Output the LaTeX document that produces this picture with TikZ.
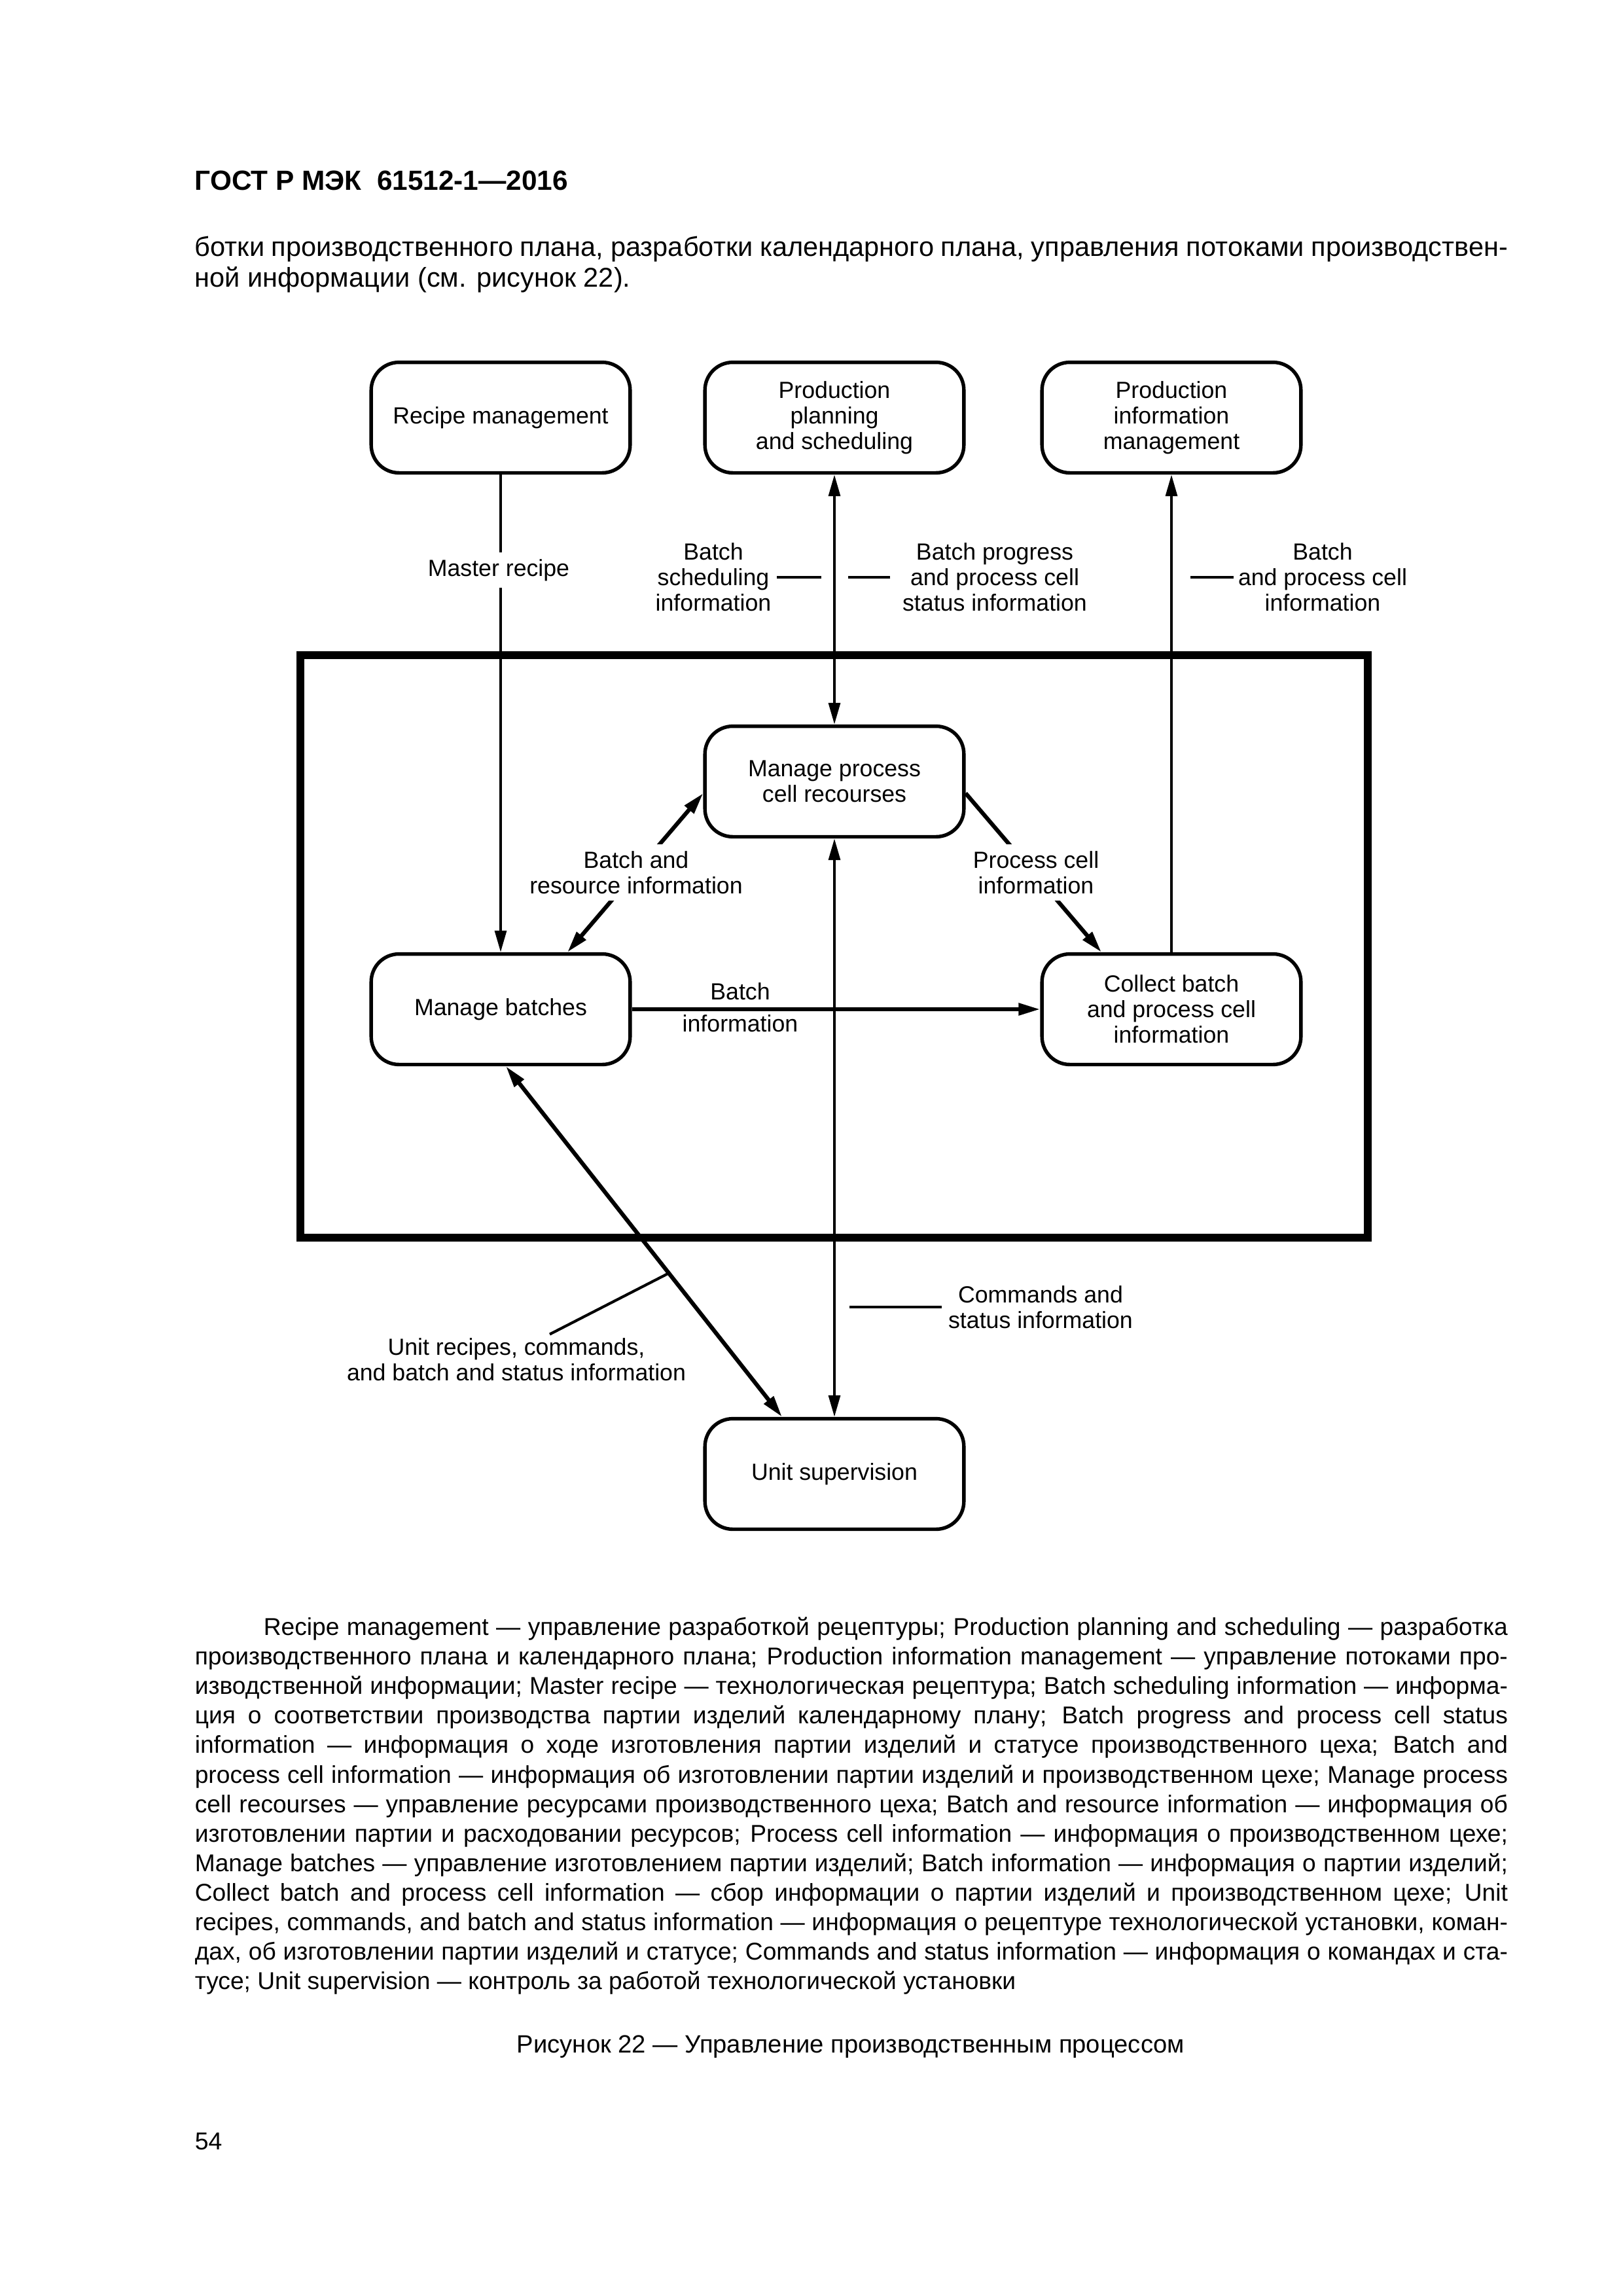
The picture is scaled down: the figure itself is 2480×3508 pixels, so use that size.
\documentclass[tikz,border=0pt]{standalone}
\usepackage{fontspec}
\setmainfont{Liberation Sans}
\usetikzlibrary{calc,arrows.meta}
\newcommand\dfont{\fontsize{8.6pt}{9.4pt}\selectfont}
\newcommand\nfont{\fontsize{8.95pt}{10.8pt}\selectfont}
\newcommand\tfont{\fontsize{10pt}{11.3pt}\selectfont}
\newcommand\jl[1]{\hbox to 169.86mm{#1}}
\newcommand\jli[1]{\hbox to 160.97mm{#1}}
\begin{document}
\begin{tikzpicture}[x=0.0846774mm,y=-0.0846774mm,
  >={Triangle[length=2.8mm,width=1.5mm]},
  box/.style={draw,line width=1.3pt,rounded corners=3.6mm,minimum width=33.5mm,minimum height=14.3mm,align=center,inner sep=0pt,font=\dfont},
  lbl/.style={align=center,inner sep=0pt,font=\dfont},
  gaplbl/.style={lbl,fill=white,inner xsep=1mm,inner ysep=0.9mm},
  cthin/.style={line width=1pt},
  cthick/.style={line width=1.5pt},
  txt/.style={anchor=base west,inner sep=0pt,font=\nfont}
]
\useasboundingbox (0,0) rectangle (2480,3508);

% header and top paragraph
\node[anchor=base west,inner sep=0pt,font=\fontsize{10.2pt}{12pt}\selectfont\bfseries] (hdr) at (297,290) {ГОСТ Р МЭК~~61512-1—2016};
\node[anchor=base west,inner sep=0pt,font=\tfont] (p1) at (297,391) {\jl{ботки производственного плана, разработки календарного плана, управления потоками производствен-}};
\node[anchor=base west,inner sep=0pt,font=\tfont] (p2) at (297,438) {ной информации (см. рисунок 22).};

% frame
\draw[line width=2.9pt] (459,1001) rectangle (2090,1891);

% boxes
\node[box] (rm)  at (765,638)  {Recipe management};
\node[box] (pps) at (1275,638) {Production\\planning\\and scheduling};
\node[box] (pim) at (1790,638) {Production\\information\\management};
\node[box] (mpc) at (1275,1194) {Manage process\\cell recourses};
\node[box] (mb)  at (765,1542) {Manage batches};
\node[box] (cb)  at (1790,1542) {Collect batch\\and process cell\\information};
\node[box] (us)  at (1275,2252) {Unit supervision};

% connectors
\draw[cthin,->] (rm.south) -- (mb.north);
\draw[cthin,<->] (pps.south) -- (mpc.north);
\draw[cthin,->] (cb.north) -- (pim.south);
\draw[cthick,<->] ($(mb.north)+(102,0)$) -- ($(mpc.west)+(0,18)$);
\draw[cthick,->] ($(mpc.east)+(0,18)$) -- ($(cb.north)+(-107,0)$);
\draw[cthick,->] (mb.east) -- (cb.west);
\draw[cthin,<->] (mpc.south) -- (us.north);
\draw[cthick,<->] ($(mb.south)+(8,0)$) coordinate (d1) -- ($(us.north)+(-80,0)$) coordinate (d2);

% labels
\node[gaplbl] (mr) at (762,871) {Master recipe};
\node[lbl] (bsi) at (1090,882) {Batch\\scheduling\\information};
\node[lbl] (bpp) at (1520,882) {Batch progress\\and process cell\\status information};
\node[lbl] (bpc) at (2021,882) {Batch\\and process cell\\information};
\draw[cthin] ($(bsi.east)+(8,0)$) -- ++(68,0);
\draw[cthin] ($(bpp.west)+(-18,0)$) -- ++(-64,0);
\draw[cthin] ($(bpc.west)+(-6,0)$) -- ++(-66,0);
\node[gaplbl,inner xsep=0.5mm] (bri) at (972,1333) {Batch and\\resource information};
\node[gaplbl,inner xsep=0.5mm] (pci) at (1583,1333) {Process cell\\information};
\node[lbl] (bi1) at (1131,1515) {Batch};
\node[lbl] (bi2) at (1131,1564) {information};
\node[lbl] (cmd) at (1590,1997) {Commands and\\status information};
\draw[cthin] ($(cmd.west)+(-9,0)$) -- ++(-141,0);
\node[lbl] (urc) at (789,2077) {Unit recipes, commands,\\and batch and status information};
\draw[cthin] ($(d1)!0.59!(d2)$) -- ($(urc.north)+(51,-5)$);

% note text
\node[txt] (n1)  at (402,2498) {\jli{Recipe management — управление разработкой рецептуры; Production planning and scheduling — разработка}};
\node[txt] (n2)  at (297,2543) {\jl{производственного плана и календарного плана; Production information management — управление потоками про-}};
\node[txt] (n3)  at (297,2588) {\jl{изводственной информации; Master recipe — технологическая рецептура; Batch scheduling information — информа-}};
\node[txt] (n4)  at (297,2633) {\jl{ция о соответствии производства партии изделий календарному плану; Batch progress and process cell status}};
\node[txt] (n5)  at (297,2678) {\jl{information — информация о ходе изготовления партии изделий и статусе производственного цеха; Batch and}};
\node[txt] (n6)  at (297,2724) {\jl{process cell information — информация об изготовлении партии изделий и производственном цехе; Manage process}};
\node[txt] (n7)  at (297,2769) {\jl{cell recourses — управление ресурсами производственного цеха; Batch and resource information — информация об}};
\node[txt] (n8)  at (297,2814) {\jl{изготовлении партии и расходовании ресурсов; Process cell information — информация о производственном цехе;}};
\node[txt] (n9)  at (297,2859) {\jl{Manage batches — управление изготовлением партии изделий; Batch information — информация о партии изделий;}};
\node[txt] (n10) at (297,2904) {\jl{Collect batch and process cell information — сбор информации о партии изделий и производственном цехе; Unit}};
\node[txt] (n11) at (297,2949) {\jl{recipes, commands, and batch and status information — информация о рецептуре технологической установки, коман-}};
\node[txt] (n12) at (297,2994) {\jl{дах, об изготовлении партии изделий и статусе; Commands and status information — информация о командах и ста-}};
\node[txt] (n13) at (297,3039) {тусе; Unit supervision — контроль за работой технологической установки};

% caption and page number
\node[anchor=base,inner sep=0pt,font=\fontsize{9.2pt}{11pt}\selectfont] (cap) at (1300,3136) {Рисунок 22 — Управление производственным процессом};
\node[anchor=base west,inner sep=0pt,font=\fontsize{9pt}{11pt}\selectfont] (pg) at (297,3284) {54};
\end{tikzpicture}
\end{document}
